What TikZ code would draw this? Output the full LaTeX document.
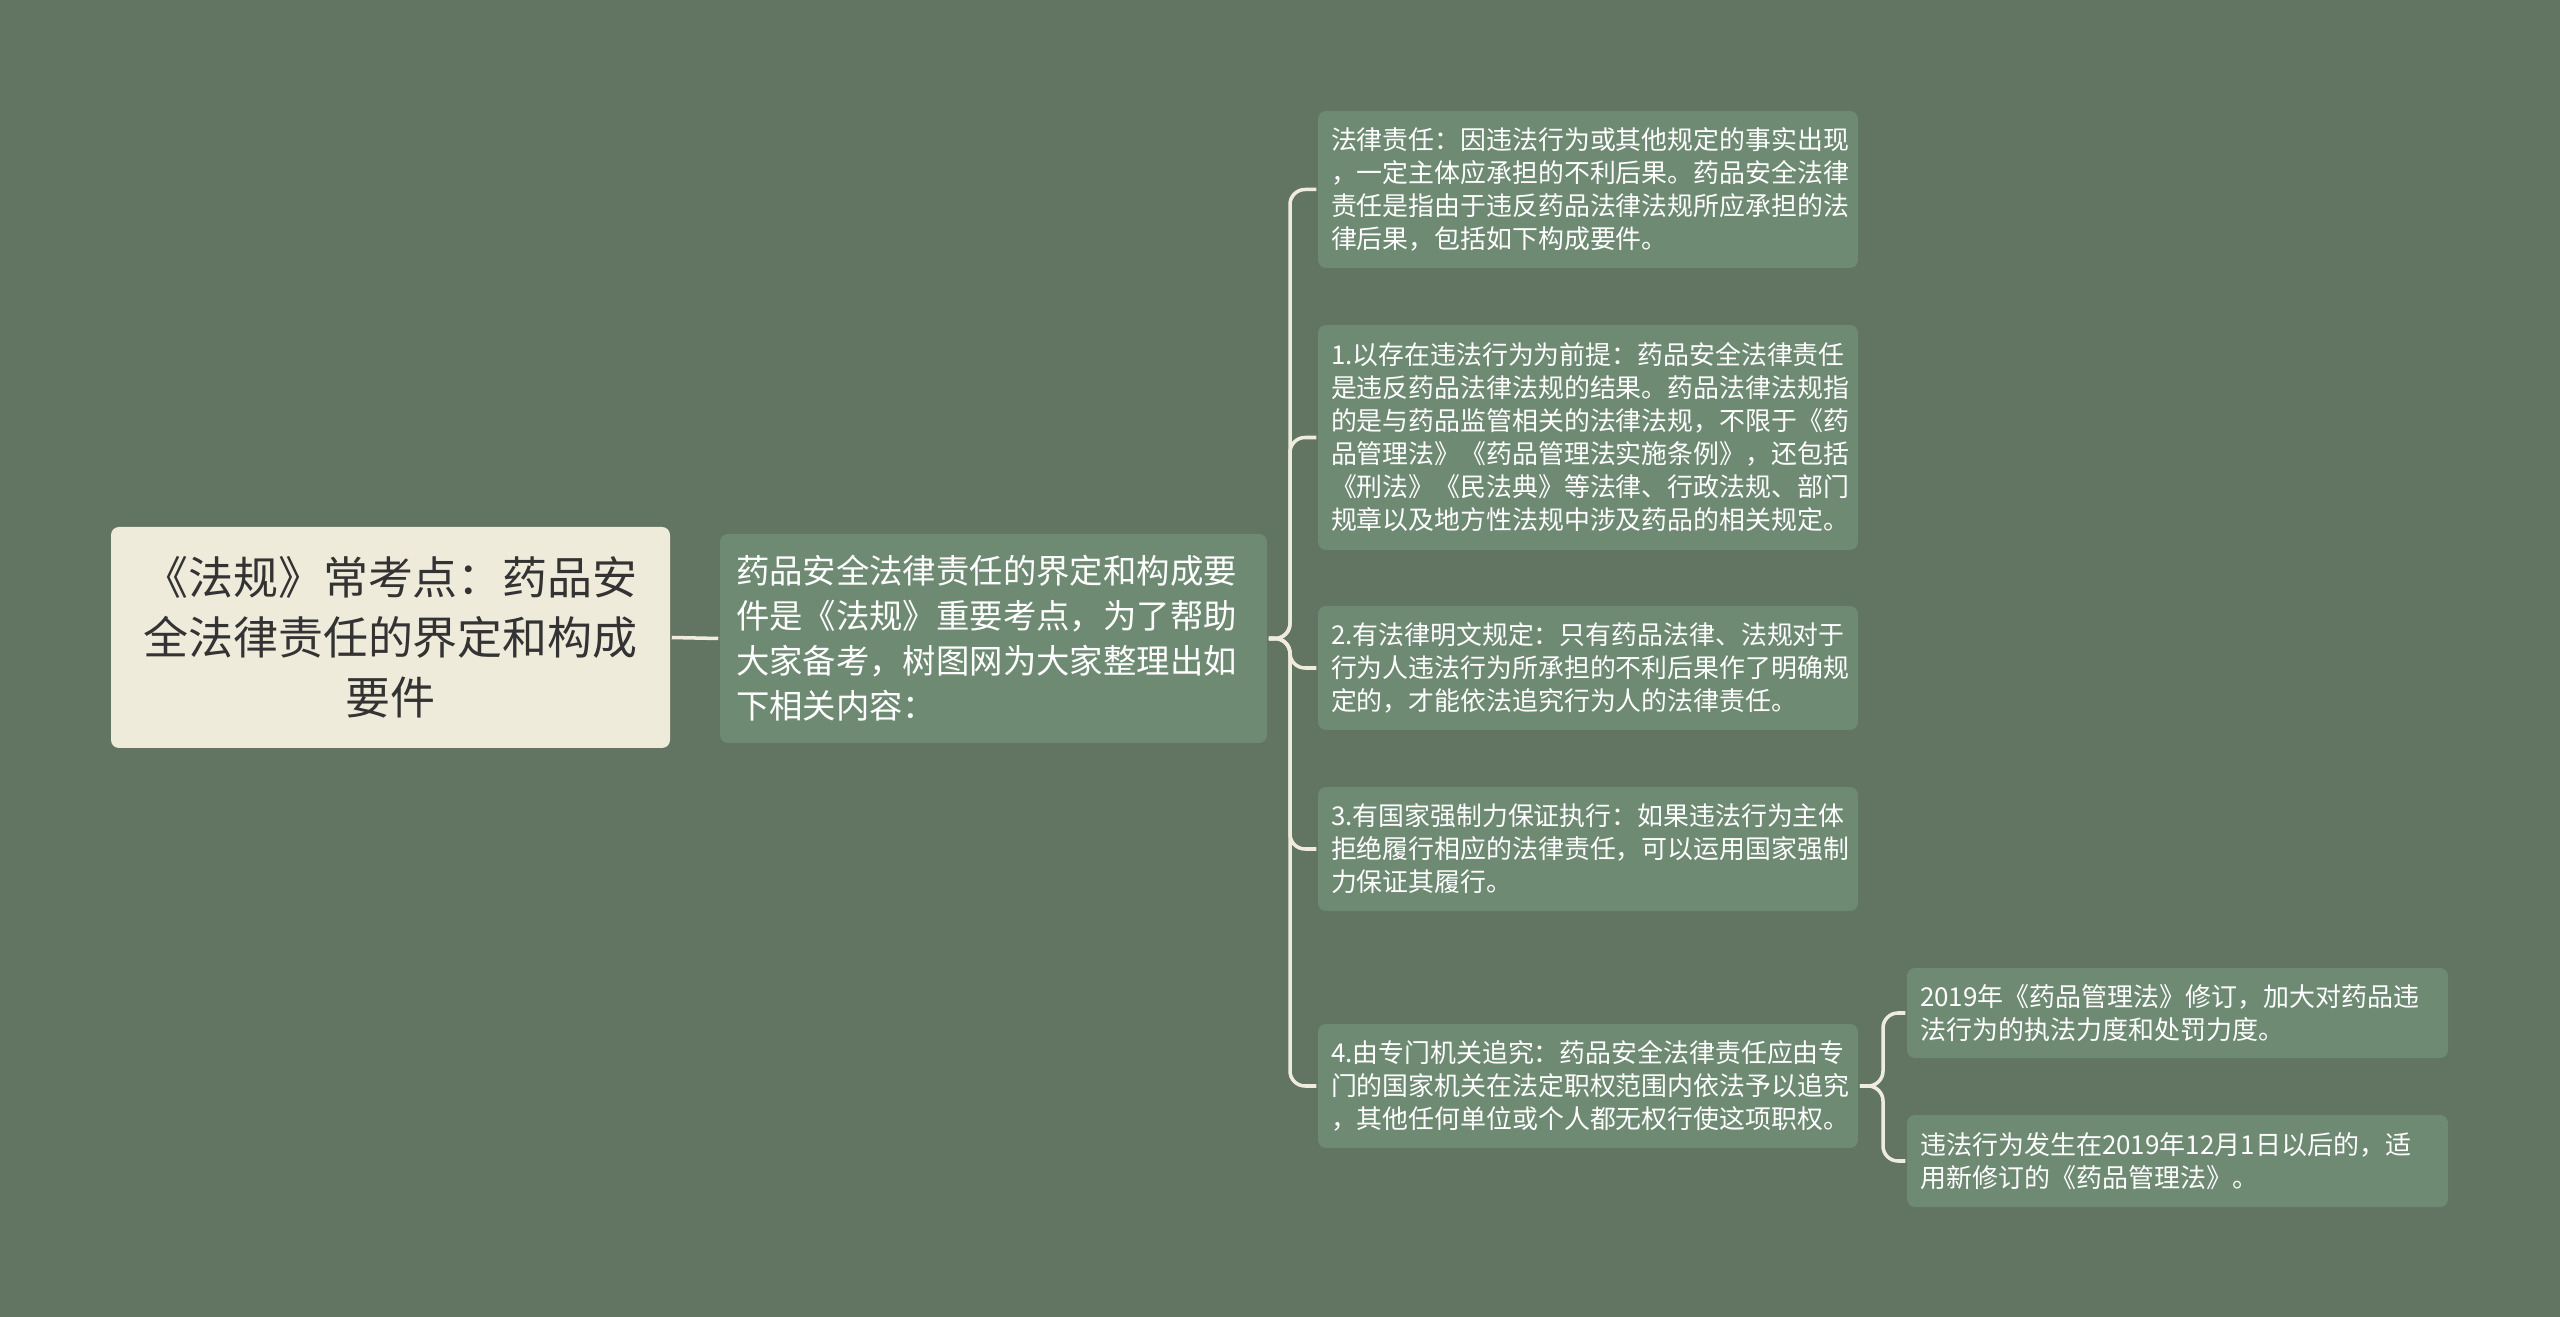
\documentclass[tikz,border=0pt]{standalone}
\usepackage{fontspec}
\setmainfont{Noto Sans CJK SC}
\definecolor{mybg}{HTML}{627462}
\definecolor{mybox}{HTML}{6E8A73}
\definecolor{myroot}{HTML}{EFEBDB}
\definecolor{myline}{HTML}{F0ECDD}
\definecolor{mydark}{HTML}{333333}

\begin{document}
\begin{tikzpicture}[line width=1pt]
				\tikzstyle{myedgestyle} = [draw=myline, rounded corners=1.5mm]
				\tikzstyle{myrootstyle} = [fill=myroot, text=mydark, rounded corners=0.8mm, minimum width=5.59cm, minimum height=2.21cm, inner sep=0pt, align=center, font=\fontsize{12.8}{17.1}\selectfont]
				\tikzstyle{mytopicstyle} = [fill=mybox, text=white, rounded corners=0.8mm, text width=5.15cm, inner xsep=0.16cm, inner ysep=0pt, minimum height=2.09cm, align=left, font=\fontsize{9.5}{12.8}\selectfont]
				\tikzstyle{myleafstyle} = [fill=mybox, text=white, rounded corners=0.8mm, text width=5.14cm, inner xsep=0.13cm, inner ysep=0pt, align=left, font=\fontsize{7.37}{9.4}\selectfont]
				\tikzstyle{mysubleafstyle} = [myleafstyle, text width=5.15cm, font=\fontsize{7.4}{9.4}\selectfont]
				
				\fill[mybg] (0,0) rectangle (25.6,-13.17);
				\useasboundingbox (0,0) rectangle (25.6,-13.17);
				
				\node[myrootstyle] (A1) at (3.905,-6.375) {《法规》常考点：药品安\\全法律责任的界定和构成\\要件};
				\node[mytopicstyle] (B1) at (9.935,-6.385) {药品安全法律责任的界定和构成要\\件是《法规》重要考点，为了帮助\\大家备考，树图网为大家整理出如\\下相关内容：};
				
				\node[myleafstyle, minimum height=1.57cm] (C1) at (15.88,-1.895) {法律责任：因违法行为或其他规定的事实出现\\，一定主体应承担的不利后果。药品安全法律\\责任是指由于违反药品法律法规所应承担的法\\律后果，包括如下构成要件。};
				\node[myleafstyle, minimum height=2.25cm] (C2) at (15.88,-4.375) {1.以存在违法行为为前提：药品安全法律责任\\是违反药品法律法规的结果。药品法律法规指\\的是与药品监管相关的法律法规，不限于《药\\品管理法》《药品管理法实施条例》，还包括\\《刑法》《民法典》等法律、行政法规、部门\\规章以及地方性法规中涉及药品的相关规定。};
				\node[myleafstyle, minimum height=1.24cm] (C3) at (15.88,-6.68) {2.有法律明文规定：只有药品法律、法规对于\\行为人违法行为所承担的不利后果作了明确规\\定的，才能依法追究行为人的法律责任。};
				\node[myleafstyle, minimum height=1.24cm] (C4) at (15.88,-8.49) {3.有国家强制力保证执行：如果违法行为主体\\拒绝履行相应的法律责任，可以运用国家强制\\力保证其履行。};
				\node[myleafstyle, minimum height=1.24cm] (C5) at (15.88,-10.86) {4.由专门机关追究：药品安全法律责任应由专\\门的国家机关在法定职权范围内依法予以追究\\，其他任何单位或个人都无权行使这项职权。};
				
				\node[mysubleafstyle, minimum height=0.90cm] (D1) at (21.775,-10.13) {2019年《药品管理法》修订，加大对药品违\\法行为的执法力度和处罚力度。};
				\node[mysubleafstyle, minimum height=0.92cm] (D2) at (21.775,-11.61) {违法行为发生在2019年12月1日以后的，适\\用新修订的《药品管理法》。};
				
				\coordinate (K1) at (12.90,-6.385);
				\coordinate (K2) at (18.83,-10.86);
				
				\draw [myedgestyle] (A1.east) -- (B1.west);
				\draw [myedgestyle] (B1.east) -- (K1) |- (C1.west);
				\draw [myedgestyle] (B1.east) -- (K1) |- (C2.west);
				\draw [myedgestyle] (B1.east) -- (K1) |- (C3.west);
				\draw [myedgestyle] (B1.east) -- (K1) |- (C4.west);
				\draw [myedgestyle] (B1.east) -- (K1) |- (C5.west);
				\draw [myedgestyle] (C5.east) -- (K2) |- (D1.west);
				\draw [myedgestyle] (C5.east) -- (K2) |- (D2.west);
				
				\end{tikzpicture}
\end{document}
